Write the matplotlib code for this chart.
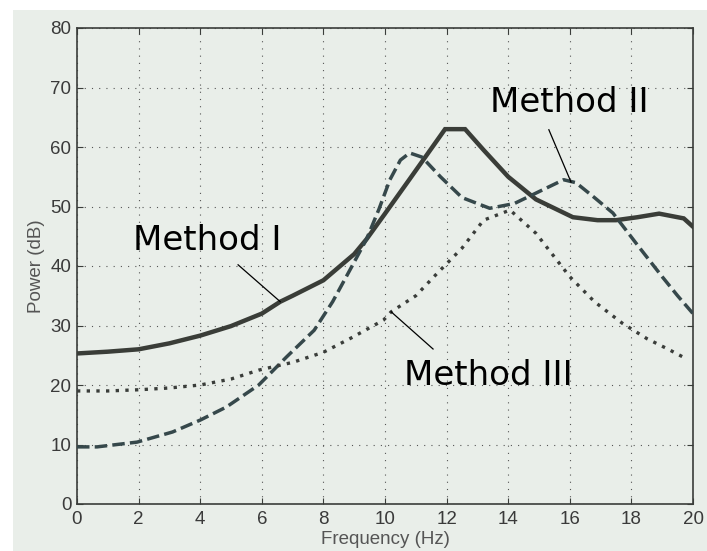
import matplotlib
matplotlib.use("Agg")
import matplotlib.pyplot as plt
from matplotlib.patches import Rectangle

# Method I (solid)
x1 = [0, 1, 2, 3, 4, 5, 6, 6.6, 7, 8, 9, 9.4, 10, 10.8, 11.95, 12.6, 13.2, 14.0, 14.9, 16.1, 16.9, 17.5, 18.2, 18.9, 19.7, 20]
y1 = [25.3, 25.6, 26.0, 27.0, 28.3, 29.9, 32.0, 34.0, 35.0, 37.6, 42.0, 44.5, 48.8, 54.6, 63.0, 63.0, 59.5, 55.0, 51.2, 48.2, 47.7, 47.7, 48.2, 48.8, 48.0, 46.6]

# Method II (dashed)
x2 = [0, 0.65, 1.95, 3.1, 4.0, 4.85, 5.9, 6.8, 7.7, 8.3, 8.9, 9.4, 9.8, 10.16, 10.5, 10.8, 11.2, 11.8, 12.5, 13.4, 14.2, 15.0, 15.8, 16.2, 16.8, 17.4, 18.2, 19.0, 19.5, 20]
y2 = [9.6, 9.6, 10.4, 12.1, 14.1, 16.3, 20.0, 24.7, 29.2, 34.0, 39.7, 44.5, 49.5, 54.5, 57.8, 59.0, 58.3, 55.0, 51.5, 49.7, 50.5, 52.5, 54.5, 54.0, 51.5, 48.9, 43.5, 38.2, 35.0, 32.0]

# Method III (dotted)
x3 = [0, 1, 2, 3, 4, 5, 5.9, 7, 8.0, 8.9, 9.95, 10.2, 11.0, 11.7, 12.5, 13.2, 14.06, 14.9, 16.0, 16.8, 17.7, 18.5, 19.2, 19.75]
y3 = [19.0, 19.0, 19.2, 19.5, 20.0, 21.0, 22.5, 23.8, 25.5, 27.9, 30.9, 32.3, 35.0, 38.8, 43.0, 47.7, 49.4, 45.5, 38.2, 34.0, 30.4, 27.8, 26.0, 24.5]

xticks = [0, 2, 4, 6, 8, 10, 12, 14, 16, 18, 20]
yticks = [0, 10, 20, 30, 40, 50, 60, 70, 80]

labels = ["Method I", "Method II", "Method III"]
anchor_pts = [(6.6, 34.0), (16.04, 54.1), (10.2, 32.3)]
text_pts = [(4.22, 44.3), (15.97, 67.4), (13.36, 21.6)]
line_ends = [(5.23, 40.2), (15.32, 62.9), (11.56, 26.05)]

bg = "#e9eee9"
fig = plt.figure(figsize=(7.07, 5.51), dpi=100, facecolor="white")
fig.patches.append(Rectangle((13 / 707, 0), 1 - 13 / 707, 1 - 10 / 551,
                             transform=fig.transFigure, facecolor=bg,
                             edgecolor="none", zorder=-10))
ax = fig.add_axes([77 / 707, 1 - 504 / 551, (693 - 77) / 707, (504 - 28) / 551])
ax.set_facecolor(bg)

ax.plot(x1, y1, color="#3a3d38", lw=3.2, solid_joinstyle="miter", zorder=3)
ax.plot(x2, y2, color="#36484b", lw=2.5, linestyle=(0, (3.6, 1.5)), zorder=3)
ax.plot(x3, y3, color="#3a3d3a", lw=2.4, linestyle=(0, (1, 1.9)), zorder=3)

for lab, (ax_, ay_), (tx, ty), (lx, ly) in zip(labels, anchor_pts, text_pts, line_ends):
    ax.plot([lx, ax_], [ly, ay_], color="black", lw=0.9, zorder=4)
    ax.text(tx, ty, lab, fontsize=24.5, family="DejaVu Sans", color="black",
            ha="center", va="center", zorder=5)

ax.set_xlim(0, 20)
ax.set_ylim(0, 80)
ax.set_xticks(xticks)
ax.set_yticks(yticks)
ax.tick_params(direction="in", top=True, right=True, length=4, width=0.8,
               color="#3a3d3a", labelsize=13.5, labelcolor="#3a3a3a")
ax.tick_params(axis="x", pad=5)
ax.tick_params(axis="y", pad=4)
for lbl in ax.get_xticklabels() + ax.get_yticklabels():
    lbl.set_family("Liberation Sans")
ax.grid(True, linestyle=(0, (1, 5.5)), linewidth=0.8, color="#555555")
for s in ax.spines.values():
    s.set_color("#3a3d3a")
    s.set_linewidth(1.2)

ax.set_xlabel("Frequency (Hz)", fontsize=13.5, color="#555555", family="Liberation Sans", labelpad=2)
ax.set_ylabel("Power (dB)", fontsize=13.5, color="#555555", family="Liberation Sans", labelpad=4)

fig.savefig("out.png", dpi=100, facecolor="white")
